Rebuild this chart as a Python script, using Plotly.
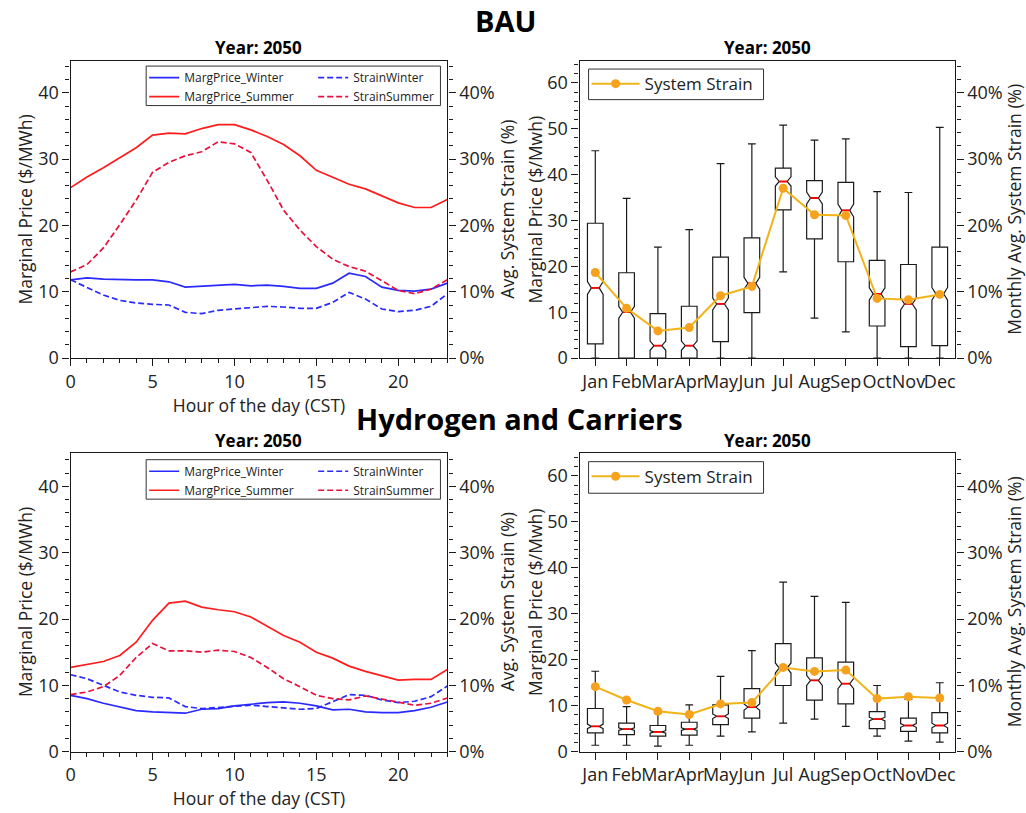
import plotly.graph_objects as go

W, H = 1026, 813

hours = list(range(24))
months = ["Jan", "Feb", "Mar", "Apr", "May", "Jun", "Jul", "Aug", "Sep", "Oct", "Nov", "Dec"]
month_pos = list(range(1, 13))

# ---------------- BAU: hourly profiles ----------------
bau_price_winter = [11.8, 12.1, 11.9, 11.8, 11.8, 11.8, 11.5, 10.7, 10.8, 10.9, 11.1, 10.9,
                    11.0, 10.8, 10.5, 10.5, 11.3, 12.8, 12.3, 10.7, 10.2, 10.1, 10.4, 11.3]
bau_price_summer = [25.7, 27.3, 28.7, 30.2, 31.7, 33.6, 33.9, 33.8, 34.6, 35.2, 35.2, 34.4,
                    33.4, 32.2, 30.5, 28.3, 27.3, 26.2, 25.5, 24.5, 23.4, 22.7, 22.7, 23.9]
bau_strain_winter = [11.8, 10.7, 9.5, 8.7, 8.3, 8.1, 8.0, 6.9, 6.7, 7.2, 7.4, 7.7,
                     7.8, 7.7, 7.5, 7.5, 8.4, 9.9, 8.9, 7.4, 7.0, 7.2, 7.8, 9.7]
bau_strain_summer = [13.0, 14.1, 16.6, 20.1, 23.8, 28.0, 29.5, 30.5, 31.1, 32.6, 32.3, 31.0,
                     26.8, 22.3, 19.3, 16.8, 14.9, 13.8, 13.1, 11.6, 10.2, 9.7, 10.4, 11.8]

# ---------------- BAU: monthly box stats ----------------
bau_upper = [45.2, 34.8, 24.2, 28.0, 42.4, 46.7, 50.8, 47.5, 47.8, 36.3, 36.1, 50.3]
bau_q3 = [29.4, 18.6, 9.7, 11.3, 22.0, 26.2, 41.4, 38.7, 38.3, 21.3, 20.4, 24.2]
bau_median = [15.3, 10.0, 2.7, 2.7, 11.8, 16.3, 38.5, 34.9, 32.2, 14.0, 11.8, 14.0]
bau_q1 = [3.1, 0.0, 0.0, 0.0, 3.6, 9.9, 32.3, 26.0, 21.0, 7.0, 2.5, 2.7]
bau_lower = [0.0, 0.0, 0.0, 0.0, 0.0, 0.0, 18.8, 8.7, 5.7, 0.0, 0.0, 0.0]
bau_notch = [1.4, 1.3, 1.0, 1.0, 1.3, 1.3, 1.0, 1.3, 1.4, 1.3, 1.3, 1.4]
bau_monthly_strain = [12.9, 7.5, 4.1, 4.6, 9.4, 10.8, 25.6, 21.6, 21.5, 9.0, 8.8, 9.6]

# ---------------- Hydrogen and Carriers: hourly profiles ----------------
h2_price_winter = [8.5, 8.0, 7.3, 6.7, 6.2, 6.0, 5.9, 5.8, 6.4, 6.5, 6.9, 7.2,
                   7.4, 7.5, 7.3, 6.9, 6.3, 6.4, 6.0, 5.9, 5.9, 6.2, 6.7, 7.5]
h2_price_summer = [12.7, 13.2, 13.6, 14.5, 16.5, 19.8, 22.4, 22.7, 21.8, 21.4, 21.1, 20.3,
                   18.9, 17.5, 16.5, 15.0, 14.1, 12.9, 12.1, 11.4, 10.8, 10.9, 10.9, 12.4]
h2_strain_winter = [11.6, 11.0, 10.0, 9.0, 8.5, 8.2, 8.1, 6.8, 6.5, 6.7, 6.9, 7.0,
                    6.8, 6.6, 6.4, 6.5, 7.5, 8.6, 8.5, 7.8, 7.4, 7.6, 8.3, 9.9]
h2_strain_summer = [8.6, 9.0, 9.8, 11.5, 14.2, 16.3, 15.2, 15.2, 15.0, 15.3, 15.1, 14.2,
                    12.7, 11.0, 9.8, 8.5, 8.0, 7.8, 8.4, 7.9, 7.4, 7.0, 7.3, 8.1]

# ---------------- Hydrogen and Carriers: monthly box stats ----------------
h2_upper = [17.5, 9.8, 8.4, 10.2, 16.4, 22.0, 36.9, 33.8, 32.5, 14.4, 11.4, 15.0]
h2_q3 = [9.4, 6.2, 5.7, 6.4, 10.2, 13.7, 23.5, 20.4, 19.5, 8.7, 7.3, 8.5]
h2_median = [5.5, 4.9, 4.3, 4.9, 7.7, 9.7, 18.2, 15.5, 14.8, 7.1, 5.7, 5.7]
h2_q1 = [4.1, 3.7, 3.4, 3.6, 5.9, 7.3, 14.4, 11.2, 10.4, 5.0, 4.4, 4.1]
h2_lower = [1.4, 1.4, 1.2, 1.4, 3.4, 4.3, 6.2, 7.1, 5.5, 3.4, 2.3, 2.1]
h2_notch = [0.5, 0.3, 0.3, 0.3, 0.5, 0.7, 1.1, 1.1, 1.1, 0.4, 0.4, 0.5]
h2_monthly_strain = [9.8, 7.8, 6.1, 5.6, 7.2, 7.4, 12.7, 12.1, 12.3, 8.0, 8.3, 8.1]

# ---------------- styling ----------------
FONT = "Open Sans"
TXT = "#222222"
BLUE = "#2a2aff"
RED = "#ff1c1c"
RED_D = "#e8103a"
GOLD_LINE = "#f0b419"
GOLD_MARK = "#f7a21e"
DASH = "6px,3px"


def px(x):
    return x / W


def py(y):
    return 1 - y / H


fig = go.Figure()

XL = [px(66), px(445)]
XR = [px(578), px(956)]
YT = [py(363), py(62)]
YB = [py(762), py(459)]


def add_hourly(xa, ya_l, ya_r, pw, ps, sw, ss, lg_a, lg_b):
    fig.add_trace(go.Scatter(x=hours, y=pw, mode="lines", name="MargPrice_Winter",
                             line=dict(color=BLUE, width=1.7), xaxis=xa, yaxis=ya_l, legend=lg_a))
    fig.add_trace(go.Scatter(x=hours, y=ps, mode="lines", name="MargPrice_Summer",
                             line=dict(color=RED, width=1.7), xaxis=xa, yaxis=ya_l, legend=lg_a))
    fig.add_trace(go.Scatter(x=hours, y=sw, mode="lines", name="StrainWinter",
                             line=dict(color=BLUE, width=1.7, dash=DASH), xaxis=xa, yaxis=ya_r, legend=lg_b))
    fig.add_trace(go.Scatter(x=hours, y=ss, mode="lines", name="StrainSummer",
                             line=dict(color=RED_D, width=1.7, dash=DASH), xaxis=xa, yaxis=ya_r, legend=lg_b))


def add_monthly(xa, ya_l, ya_r, upper, q3, med, q1, lower, notch, strain, lg):
    fig.add_trace(go.Box(x=month_pos, q1=q1, median=med, q3=q3, lowerfence=lower, upperfence=upper,
                         notched=True, notchspan=notch, notchwidth=0.25, width=0.5, whiskerwidth=0.5,
                         fillcolor="rgba(255,255,255,0)", line=dict(color="#1a1a1a", width=1.2),
                         boxpoints=False, showlegend=False, xaxis=xa, yaxis=ya_l, hoverinfo="skip"))
    fig.add_trace(go.Box(x=month_pos, q1=med, median=med, q3=med, lowerfence=med, upperfence=med,
                         width=0.25, whiskerwidth=0, fillcolor="rgba(0,0,0,0)",
                         line=dict(color="#ff0000", width=1.8), boxpoints=False, showlegend=False,
                         xaxis=xa, yaxis=ya_l, hoverinfo="skip"))
    fig.add_trace(go.Scatter(x=month_pos, y=strain, mode="lines+markers", name="System Strain",
                             line=dict(color=GOLD_LINE, width=2),
                             marker=dict(color=GOLD_MARK, size=9),
                             xaxis=xa, yaxis=ya_r, legend=lg))


add_hourly("x", "y", "y2", bau_price_winter, bau_price_summer, bau_strain_winter, bau_strain_summer,
           "legend", "legend2")
add_monthly("x2", "y3", "y4", bau_upper, bau_q3, bau_median, bau_q1, bau_lower, bau_notch,
            bau_monthly_strain, "legend3")
add_hourly("x3", "y5", "y6", h2_price_winter, h2_price_summer, h2_strain_winter, h2_strain_summer,
           "legend4", "legend5")
add_monthly("x4", "y7", "y8", h2_upper, h2_q3, h2_median, h2_q1, h2_lower, h2_notch,
            h2_monthly_strain, "legend6")

tickfont = dict(family=FONT, size=18, color=TXT)
titlefont = dict(family=FONT, size=17.5, color=TXT)
axline = dict(showline=True, linecolor="#1a1a1a", linewidth=1.3, showgrid=False, zeroline=False,
              ticks="outside", ticklen=7, tickwidth=1.2, tickcolor="#1a1a1a", tickfont=tickfont)


def minor(d):
    return dict(ticks="outside", ticklen=4, tickwidth=1, tickcolor="#1a1a1a", dtick=d, showgrid=False)


def hour_x(domain, anchor):
    return dict(domain=domain, anchor=anchor, range=[0, 23], dtick=5, tick0=0, mirror=True,
                tickangle=0, minor=minor(1),
                title=dict(text="Hour of the day (CST)", font=titlefont, standoff=0), **axline)


def month_x(domain, anchor):
    return dict(domain=domain, anchor=anchor, range=[0.5, 12.5], tickmode="array", tickangle=0,
                tickvals=month_pos, ticktext=months, mirror=True, **axline)


def left_y(domain, anchor, rng):
    return dict(domain=domain, anchor=anchor, range=rng, dtick=10, tick0=0,
                minor=minor(2), **axline)


def right_y(overlay, anchor, rng):
    return dict(overlaying=overlay, anchor=anchor, side="right", range=rng, dtick=10, tick0=0,
                ticksuffix="%", minor=minor(2), **axline)


top_rng = 301 / 6.725
bot_rng = 303 / 6.725

fig.update_layout(
    xaxis=hour_x(XL, "y"),
    yaxis=left_y(YT, "x", [0, top_rng]),
    yaxis2=right_y("y", "x", [0, top_rng]),
    xaxis2=month_x(XR, "y3"),
    yaxis3=left_y(YT, "x2", [0, 301 / 4.65]),
    yaxis4=right_y("y3", "x2", [0, top_rng]),
    xaxis3=hour_x(XL, "y5"),
    yaxis5=left_y(YB, "x3", [0, bot_rng]),
    yaxis6=right_y("y5", "x3", [0, bot_rng]),
    xaxis4=month_x(XR, "y7"),
    yaxis7=left_y(YB, "x4", [0, 303 / 4.66]),
    yaxis8=right_y("y7", "x4", [0, bot_rng]),
)

small_leg = dict(font=dict(family=FONT, size=12, color=TXT), bgcolor="rgba(0,0,0,0)",
                 borderwidth=0, orientation="v", xanchor="left", yanchor="top",
                 tracegroupgap=0, itemwidth=30)
big_leg = dict(font=dict(family=FONT, size=17, color=TXT), bgcolor="rgba(0,0,0,0)",
               borderwidth=0, orientation="v", xanchor="left", yanchor="top", itemwidth=48)

fig.update_layout(
    legend=dict(x=px(140), y=py(64), **small_leg),
    legend2=dict(x=px(310), y=py(64), **small_leg),
    legend3=dict(x=px(585), y=py(67), **big_leg),
    legend4=dict(x=px(140), y=py(463), **small_leg),
    legend5=dict(x=px(310), y=py(463), **small_leg),
    legend6=dict(x=px(585), y=py(465), **big_leg),
)

shapes = []
for (x0, y0, x1, y1) in [(142, 67, 438, 107), (587, 70, 763, 101),
                         (142, 466, 438, 506), (587, 468, 763, 500)]:
    shapes.append(dict(type="rect", xref="paper", yref="paper", x0=px(x0), x1=px(x1),
                       y0=py(y1), y1=py(y0), line=dict(color="#333333", width=1),
                       fillcolor="rgba(0,0,0,0)", layer="above"))

annotations = [
    dict(text="<b>BAU</b>", x=px(503), y=py(21), font=dict(family=FONT, size=29, color="#000")),
    dict(text="<b>Hydrogen and Carriers</b>", x=px(518), y=py(424),
         font=dict(family=FONT, size=29, color="#000")),
]
for cx in (255, 767):
    for cy in (48, 447):
        annotations.append(dict(text="<b>Year: 2050</b>", x=px(cx), y=py(cy),
                                font=dict(family=FONT, size=17, color="#000")))

# y-axis titles
for cy in (212.5, 610.5):
    for cx, txt in [(20, "Marginal Price ($/MWh)"), (505, "Avg. System Strain (%)"),
                    (533, "Marginal Price ($/Mwh)"), (1015, "Monthly Avg. System Strain (%)")]:
        annotations.append(dict(text=txt, x=px(cx), y=py(cy), textangle=-90, font=titlefont))

for a in annotations:
    a.update(xref="paper", yref="paper", showarrow=False, xanchor="center", yanchor="middle")

fig.update_layout(
    width=W, height=H, margin=dict(l=0, r=0, t=0, b=0),
    paper_bgcolor="white", plot_bgcolor="white",
    font=dict(family=FONT, color=TXT),
    boxmode="overlay", showlegend=True,
    shapes=shapes, annotations=annotations,
)

fig.write_html("out.html")
